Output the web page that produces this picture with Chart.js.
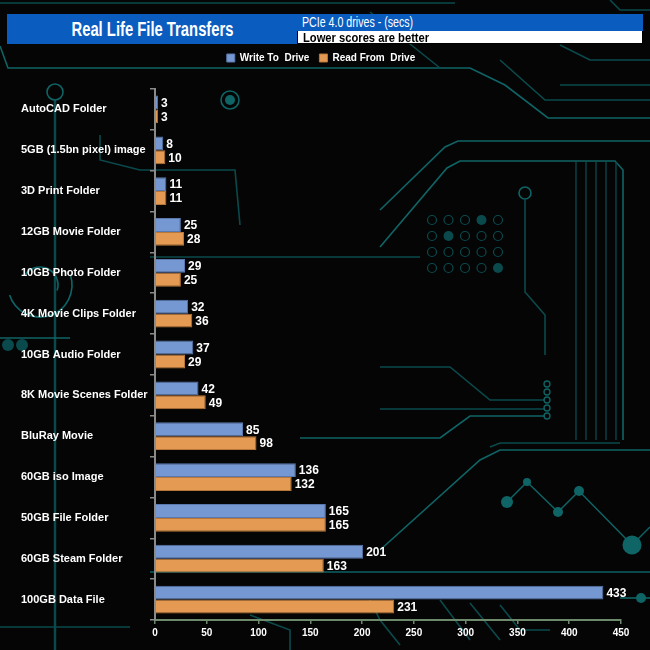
<!DOCTYPE html>
<html>
<head>
<meta charset="utf-8">
<script src="https://cdn.jsdelivr.net/npm/chart.js@4.4.1/dist/chart.umd.min.js"></script>
<style>
  html, body { margin:0; padding:0; background:#050505; }
  #wrap { position:relative; width:650px; height:650px; overflow:hidden; }
  canvas { position:absolute; left:0; top:0; }
  .hdr { position:absolute; font-family:'Liberation Sans',Arial,sans-serif; font-weight:bold; white-space:nowrap; overflow:hidden; }
  .hdr span { display:inline-block; }
  #title { left:7px; top:14px; width:290px; height:30px; background:#0a5cbf; color:#fff; font-size:20px; line-height:30px; text-align:center; }
  #title span { transform:scaleX(0.74); transform-origin:center; }
  #sub1 { left:297px; top:14px; width:346px; height:17px; background:#0a5cbf; color:#fff; font-size:14px; line-height:17px; padding-left:5px; box-sizing:border-box; font-weight:normal; }
  #sub1 span { transform:scaleX(0.76); transform-origin:left center; }
  #sub2 { left:297px; top:31px; width:346px; height:13px; background:#fff; color:#000; font-size:13px; line-height:13px; padding-left:5px; box-sizing:border-box; border:1px solid #000; border-top:none; font-weight:bold; }
  #sub2 span { transform:scaleX(0.86); transform-origin:left center; }
</style>
</head>
<body>
<div id="wrap">
  <canvas id="c" width="650" height="650"></canvas>
  <div class="hdr" id="title"><span>Real Life File Transfers</span></div>
  <div class="hdr" id="sub1"><span>PCIe 4.0 drives - (secs)</span></div>
  <div class="hdr" id="sub2"><span>Lower scores are better</span></div>
</div>
<script>
const categories = [
  'AutoCAD Folder', '5GB (1.5bn pixel) image', '3D Print Folder', '12GB Movie Folder',
  '10GB Photo Folder', '4K Movie Clips Folder', '10GB Audio Folder', '8K Movie Scenes Folder',
  'BluRay Movie', '60GB iso Image', '50GB File Folder', '60GB Steam Folder', '100GB Data File'
];
const writeToDrive  = [3, 8, 11, 25, 29, 32, 37, 42, 85, 136, 165, 201, 433];
const readFromDrive = [3, 10, 11, 28, 25, 36, 29, 49, 98, 132, 165, 163, 231];
const seriesNames = ['Write To  Drive', 'Read From  Drive'];
const xMin = 0, xMax = 450, xStep = 50;

const TEAL = '#0f6466';
const TEAL_D = '#0b4a4c';

const background = {
  id: 'background',
  beforeDraw(chart) {
    const ctx = chart.ctx;
    ctx.save();
    ctx.fillStyle = '#050505';
    ctx.fillRect(0, 0, chart.width, chart.height);
    const path = (pts, color, w) => {
      ctx.beginPath();
      ctx.strokeStyle = color || TEAL;
      ctx.lineWidth = w || 1.6;
      pts.forEach((p, i) => i ? ctx.lineTo(p[0], p[1]) : ctx.moveTo(p[0], p[1]));
      ctx.stroke();
    };
    const circ = (x, y, r, fill, color) => {
      ctx.beginPath();
      ctx.arc(x, y, r, 0, Math.PI * 2);
      if (fill) { ctx.fillStyle = color || TEAL; ctx.fill(); }
      else { ctx.strokeStyle = color || TEAL; ctx.stroke(); }
    };
    // top traces
    path([[0, 46], [8, 68], [470, 68], [505, 85], [548, 118], [650, 118]]);
    path([[500, 60], [545, 100], [650, 100]], TEAL_D);
    path([[370, 12], [440, 68]], TEAL_D);
    path([[560, 85], [650, 85]], TEAL_D);
    path([[0, 3], [455, 3]], TEAL_D);
    path([[380, 210], [445, 147], [458, 141], [650, 141]]);
    path([[380, 247], [447, 168], [460, 161], [615, 161], [623, 170], [623, 440]]);
    path([[610, 0], [620, 10], [650, 10]], TEAL_D);
    path([[560, 45], [590, 60], [650, 60]], TEAL_D);
    for (let i = 0; i < 5; i++) {
      const x = 576 + i * 10;
      path([[x, 162], [x, 440]], TEAL_D, 1.3);
    }
    const rows = [[0,0,0,1,0],[0,1,0,0,0],[0,0,0,0,0],[0,0,0,0,1]];
    rows.forEach((r, j) => r.forEach((f, i) => {
      ctx.lineWidth = 1.2;
      circ(432 + i * 16.5, 220 + j * 16, f ? 5 : 4.5, !!f, TEAL_D);
    }));
    ctx.lineWidth = 1.6;
    circ(525, 193, 6, false, TEAL);
    path([[525, 199], [525, 292], [545, 315], [545, 355]], TEAL_D);
    // left side
    path([[55, 100], [55, 650]], TEAL_D, 2.5);
    ctx.lineWidth = 1.6;
    circ(55, 92, 8, false, TEAL);
    circ(230, 100, 5, true, TEAL);
    ctx.lineWidth = 1.6;
    circ(230, 100, 9, false, TEAL);
    ctx.beginPath(); ctx.lineWidth = 1.6; ctx.strokeStyle = TEAL;
    ctx.arc(40, 285, 32, Math.PI * 0.9, Math.PI * 1.9, true); ctx.stroke();
    ctx.beginPath(); ctx.arc(40, 285, 18, Math.PI * 0.1, Math.PI * 1.2, true); ctx.stroke();
    path([[100, 135], [100, 160], [140, 170], [235, 170], [240, 225]], TEAL_D);
    path([[0, 338], [70, 338]], TEAL);
    circ(8, 345, 6, true, TEAL_D); circ(22, 345, 6, true, TEAL_D);
    // middle traces
    path([[150, 257], [420, 257]], TEAL_D);
    path([[380, 367], [450, 367], [490, 400], [545, 400]], TEAL_D);
    path([[380, 409], [545, 409]], TEAL_D);
    path([[300, 438], [440, 438], [470, 416], [545, 416]], TEAL);
    for (let k = 0; k < 5; k++) { ctx.lineWidth = 1.3; circ(547, 384 + k * 8, 3, false, TEAL); }
    path([[380, 550], [480, 460], [500, 450], [650, 450]], TEAL);
    path([[490, 447], [500, 443], [620, 443]], TEAL_D);
    // zigzag
    path([[507, 502], [527, 482], [558, 512], [579, 491], [632, 545], [650, 527]], TEAL, 1.5);
    circ(507, 502, 6, true); circ(527, 482, 4, true); circ(558, 512, 5, true);
    circ(579, 491, 5, true); circ(632, 545, 9.5, true);
    // bottom traces
    path([[150, 572], [650, 572]], TEAL_D, 2);
    path([[370, 600], [380, 620], [400, 645]], TEAL_D);
    path([[440, 600], [470, 640]], TEAL_D);
    path([[470, 603], [500, 640]], TEAL_D);
    path([[500, 605], [520, 630], [550, 630]], TEAL_D);
    path([[620, 598], [650, 598]], TEAL);
    circ(641, 598, 5, true);
    path([[250, 615], [290, 630], [290, 650]], TEAL_D);
    path([[0, 627], [130, 627]], TEAL_D);
    ctx.restore();
  }
};

const legendSpacer = {
  id: 'legendSpacer',
  beforeLayout(chart) {
    const lg = chart.legend;
    if (lg && !lg._spaced) {
      const f = lg.fit;
      lg.fit = function () { f.call(this); this.height += 16; };
      lg._spaced = true;
    }
  }
};

const valueLabels = {
  id: 'valueLabels',
  afterDatasetsDraw(chart) {
    const ctx = chart.ctx;
    ctx.save();
    ctx.fillStyle = '#ffffff';
    ctx.font = 'bold 12px "Liberation Sans", Arial, sans-serif';
    ctx.textBaseline = 'middle';
    ctx.textAlign = 'left';
    chart.data.datasets.forEach((ds, di) => {
      const meta = chart.getDatasetMeta(di);
      meta.data.forEach((el, i) => {
        ctx.fillText(String(ds.data[i]), el.x + 3, el.y + 1);
      });
    });
    ctx.restore();
  }
};

new Chart(document.getElementById('c'), {
  type: 'bar',
  data: {
    labels: categories,
    datasets: [
      { label: seriesNames[0], data: writeToDrive, backgroundColor: '#7698d2', borderColor: '#5a78ae', borderWidth: 1,
        categoryPercentage: 0.68, barPercentage: 1.0 },
      { label: seriesNames[1], data: readFromDrive, backgroundColor: '#e49a52', borderColor: '#b8773a', borderWidth: 1,
        categoryPercentage: 0.68, barPercentage: 1.0 }
    ]
  },
  options: {
    indexAxis: 'y',
    responsive: false,
    animation: false,
    devicePixelRatio: 1,
    layout: { padding: { left: 21, right: 29, top: 43, bottom: 10 } },
    plugins: {
      legend: {
        display: true,
        position: 'top',
        labels: {
          boxWidth: 8, boxHeight: 8, padding: 10, color: '#ffffff',
          font: { family: '"Liberation Sans", Arial, sans-serif', size: 10, weight: 'bold' }
        }
      },
      title: { display: false },
      tooltip: { enabled: false }
    },
    scales: {
      x: {
        min: xMin, max: xMax,
        ticks: { stepSize: xStep, color: '#ffffff', padding: 3,
          font: { family: '"Liberation Sans", Arial, sans-serif', size: 10, weight: 'bold' } },
        grid: { display: true, drawOnChartArea: false, drawTicks: true, tickLength: 4, color: '#6d8a6d', lineWidth: 1.5 },
        border: { display: true, color: '#6d8a6d', width: 2 },
        afterFit(s) { s.height = 20; }
      },
      y: {
        ticks: { color: '#ffffff', crossAlign: 'far', padding: 6,
          font: { family: '"Liberation Sans", Arial, sans-serif', size: 11, weight: 'bold' } },
        grid: { display: true, offset: true, drawOnChartArea: false, drawTicks: true, tickLength: 5, color: '#8a8a8a', lineWidth: 1.5 },
        border: { display: true, color: '#8a8a8a', width: 2 },
        afterFit(s) { s.width = 134; }
      }
    }
  },
  plugins: [background, legendSpacer, valueLabels]
});
</script>
</body>
</html>
